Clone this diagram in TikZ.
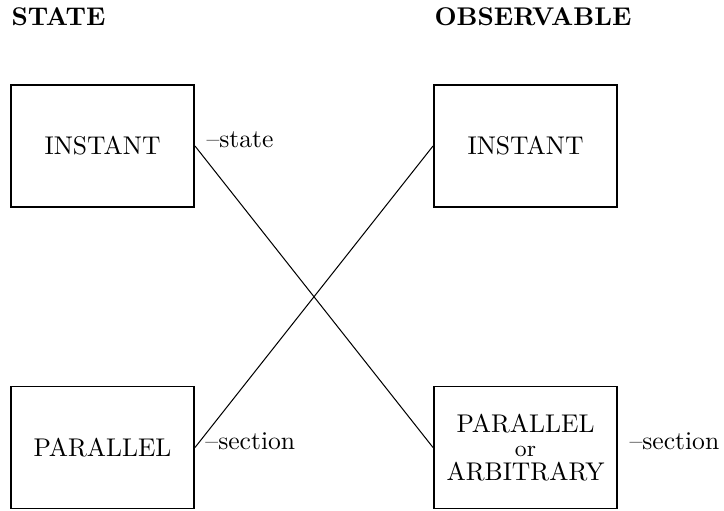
\documentclass[tikz,border=0pt]{standalone}
\usepackage{tikz}
\begin{document}
\begin{tikzpicture}[x=0.3906pt,y=-0.3906pt,
  box/.style={draw,line width=0.75pt,minimum width=71.5pt,minimum height=47.65pt,inner sep=0pt,align=center},
  link/.style={line width=0.4pt},
  lbl/.style={anchor=base west,inner sep=0pt},
  title/.style={anchor=base west,inner sep=0pt,font=\bfseries}]
\useasboundingbox (0,0) rectangle (724,510);
\node[title] (st) at (11,25) {STATE};
\node[title] (ob) at (434,25) {OBSERVABLE};
\node[box] (ti) at (102.5,146) {INSTANT};
\node[box] (to) at (525.5,146) {INSTANT};
\node[box] (bp) at (102.5,447.5) {PARALLEL};
\node[box] (ba) at (525.5,447.5) {PARALLEL\\[-2.5pt]{\small or}\\[-2.5pt]ARBITRARY};
\draw[link] (ti.east) -- (ba.west);
\draw[link] (bp.east) -- (to.west);
\node[lbl] (ls) at ([xshift=4.3pt,yshift=-0.4pt]ti.east) {--state};
\node[lbl] (lb) at ([xshift=3.9pt,yshift=-0.6pt]bp.east) {--section};
\node[lbl] (lr) at ([xshift=4.3pt,yshift=-0.6pt]ba.east) {--section};
\end{tikzpicture}
\end{document}
